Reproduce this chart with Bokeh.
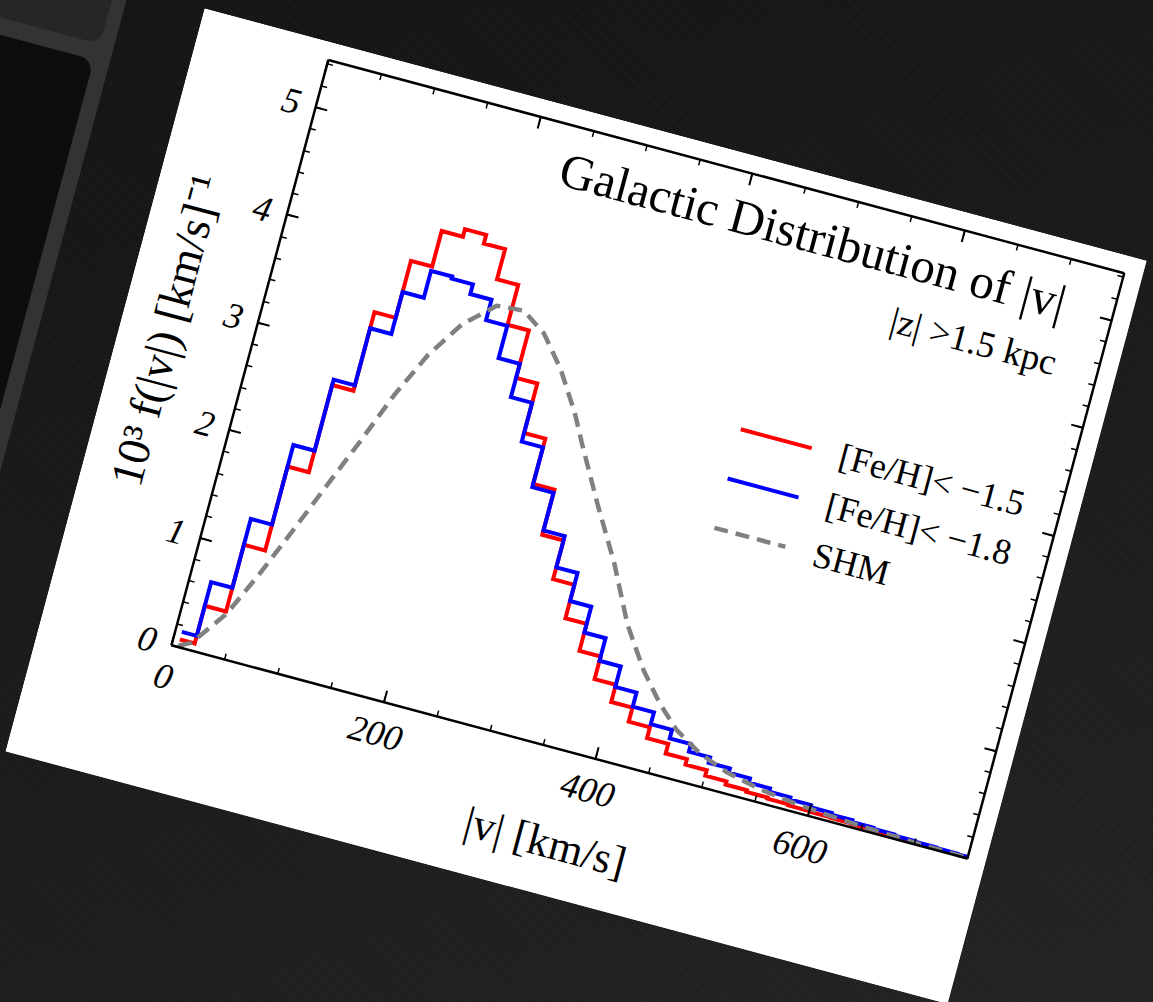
import numpy as np
from bokeh.plotting import figure
from bokeh.models import (Label, Legend, LegendItem, LinearAxis, FixedTicker, Range1d, Div,
                          CustomJSTickFormatter)
from bokeh.embed import file_html
from bokeh.resources import INLINE

# ---------------- data ----------------
bin_left = [6] + list(range(20, 760, 20))      # left edges of the 20 km/s bins
bin_right_end = 750
red_vals = [0.07, 0.42, 1.04, 1.82, 2.63, 3.36, 3.89, 4.22, 4.29, 4.21,
            3.93, 3.56, 3.12, 2.66, 2.24, 1.82, 1.46, 1.15, 0.90, 0.69,
            0.53, 0.40, 0.30, 0.21, 0.16, 0.11, 0.08, 0.065, 0.055, 0.045,
            0.04, 0.035, 0.03, 0.025, 0.02, 0.015, 0.012, 0.01]
blue_vals = [0.14, 0.64, 1.28, 2.02, 2.68, 3.21, 3.60, 3.85, 3.83, 3.74,
             3.55, 3.25, 2.94, 2.58, 2.21, 1.86, 1.57, 1.31, 1.07, 0.86,
             0.67, 0.54, 0.43, 0.35, 0.28, 0.23, 0.19, 0.15, 0.12, 0.10,
             0.08, 0.065, 0.05, 0.04, 0.03, 0.025, 0.02, 0.015]
shm_v = [6, 17, 41, 60, 79, 97, 118, 137, 157, 180, 206, 231, 254, 277, 300,
         313, 341, 370, 396, 421, 443, 464, 490, 518, 551, 584, 620, 660, 700, 750]
shm_f = [0.01, 0.07, 0.40, 0.81, 1.26, 1.70, 2.21, 2.69, 3.11, 3.46, 3.70, 3.72,
         3.57, 3.30, 2.95, 2.71, 2.22, 1.74, 1.24, 0.88, 0.63, 0.44, 0.29, 0.19,
         0.12, 0.08, 0.05, 0.03, 0.016, 0.006]
labels = ["[Fe/H]< \u22121.5", "[Fe/H]< \u22121.8", "SHM"]
x_major = [0, 200, 400, 600]
y_major = [0, 1, 2, 3, 4, 5]
title_text = "Galactic Distribution of |v|"
subtitle_text = "|z| >1.5 kpc"
xlabel_text = "|v| [km/s]"
ylabel_text = "10\u00b3 f(|v|) [km/s]\u207b\u00b9"

FONT = "Liberation Serif"

edges = bin_left + [bin_right_end]
red_y = red_vals + [red_vals[-1]]
blue_y = blue_vals + [blue_vals[-1]]

# Bokeh sizes its canvas from the (rotated) bounding box of its element, so the
# element is given the size whose 15-degree-rotated bounding box is 977 x 771.
p = figure(width=859, height=568, x_range=Range1d(0, 750), y_range=Range1d(0, 5.44),
           output_backend="svg", toolbar_location=None,
           min_border_left=133, min_border_right=19, min_border_top=18, min_border_bottom=146,
           background_fill_color="white", border_fill_color="white", outline_line_color=None)
p.grid.visible = False

xt = FixedTicker(ticks=x_major, minor_ticks=list(range(0, 751, 50)))
yt = FixedTicker(ticks=y_major, minor_ticks=[round(0.2 * i, 1) for i in range(28)])

def style_axis(ax):
    ax.axis_line_width = 2.5
    ax.axis_line_color = "black"
    ax.major_tick_in = 12
    ax.major_tick_out = 0
    ax.minor_tick_in = 6
    ax.minor_tick_out = 0
    ax.major_tick_line_width = 2
    ax.minor_tick_line_width = 1.5
    ax.major_tick_line_color = "black"
    ax.minor_tick_line_color = "black"
    ax.major_label_text_font = FONT
    ax.major_label_text_font_style = "italic"
    ax.major_label_text_color = "black"
    ax.major_label_text_font_size = "36px"
    ax.axis_label_text_font = FONT
    ax.axis_label_text_font_style = "normal"
    ax.axis_label_text_font_size = "44px"
    ax.axis_label_text_color = "black"

xa = p.xaxis[0]
ya = p.yaxis[0]
xa.ticker = xt
ya.ticker = yt
style_axis(xa)
style_axis(ya)
xa.major_label_standoff = 20
ya.major_label_standoff = 16
ya.major_label_orientation = "horizontal"
xa.axis_label = xlabel_text
ya.axis_label = ylabel_text
ya.axis_label_text_font_size = "46px"
xa.axis_label_standoff = 22
ya.axis_label_standoff = 24

blank = CustomJSTickFormatter(code="return '';")
top_ax = LinearAxis(ticker=xt, formatter=blank)
right_ax = LinearAxis(ticker=yt, formatter=blank)
for ax in (top_ax, right_ax):
    style_axis(ax)
    ax.major_label_standoff = 0
    ax.major_label_text_font_size = "1px"
p.add_layout(top_ax, "above")
p.add_layout(right_ax, "right")

r_red = p.step(x=edges, y=red_y, mode="after", line_color="#ff0000", line_width=4, line_join="miter")
r_blue = p.step(x=edges, y=blue_y, mode="after", line_color="#0000ff", line_width=4, line_join="miter")
r_shm = p.line(x=shm_v, y=shm_f, line_color="#808080", line_width=4.5, line_dash="14 8")

legend = Legend(items=[LegendItem(label=labels[0], renderers=[r_red]),
                       LegendItem(label=labels[1], renderers=[r_blue]),
                       LegendItem(label=labels[2], renderers=[r_shm])],
                location=(494, 232), glyph_width=74, glyph_height=44, label_height=44,
                spacing=7, padding=0, margin=0, label_standoff=29,
                border_line_color=None, background_fill_alpha=0,
                label_text_font=FONT, label_text_font_size="36px", label_text_color="black")
p.add_layout(legend, "center")

p.add_layout(Label(x=705, y=5.04, text=title_text, text_align="right", text_baseline="middle",
                   text_font=FONT, text_font_size="49px", text_color="black"))
p.add_layout(Label(x=711, y=4.50, text=subtitle_text, text_align="right", text_baseline="middle",
                   text_font=FONT, text_font_size="37px", text_color="black"))

p.styles = {"position": "absolute", "left": "116px", "top": "109px",
            "transform": "rotate(15deg)", "transform-origin": "50% 50%", "z-index": "2"}

deco_html = """
<div style="position:absolute;left:88px;top:120px;width:977px;height:771px;transform:rotate(15deg);transform-origin:50% 50%;">
 <div style="position:absolute;left:-520px;top:-420px;width:443px;height:1500px;background:#333333;"></div>
 <div style="position:absolute;left:-520px;top:-420px;width:429px;height:483px;background:#262626;border-radius:14px;"></div>
 <div style="position:absolute;left:-520px;top:80px;width:427px;height:1000px;background:#0d0d0d;border-radius:14px;"></div>
</div>
"""
bg_css = ("repeating-linear-gradient(45deg, rgba(255,255,255,0.03) 0px, rgba(255,255,255,0.03) 1px, "
          "rgba(0,0,0,0) 1px, rgba(0,0,0,0) 3px), "
          "linear-gradient(160deg, #131313 0%, #1a1a1a 55%, #222222 100%)")
bg = Div(text=deco_html, width=1153, height=1002, margin=0,
         styles={"position": "absolute", "left": "0px", "top": "0px", "z-index": "1",
                 "background": bg_css, "overflow": "hidden"})

open("out.html", "w").write(file_html([bg, p], INLINE))
